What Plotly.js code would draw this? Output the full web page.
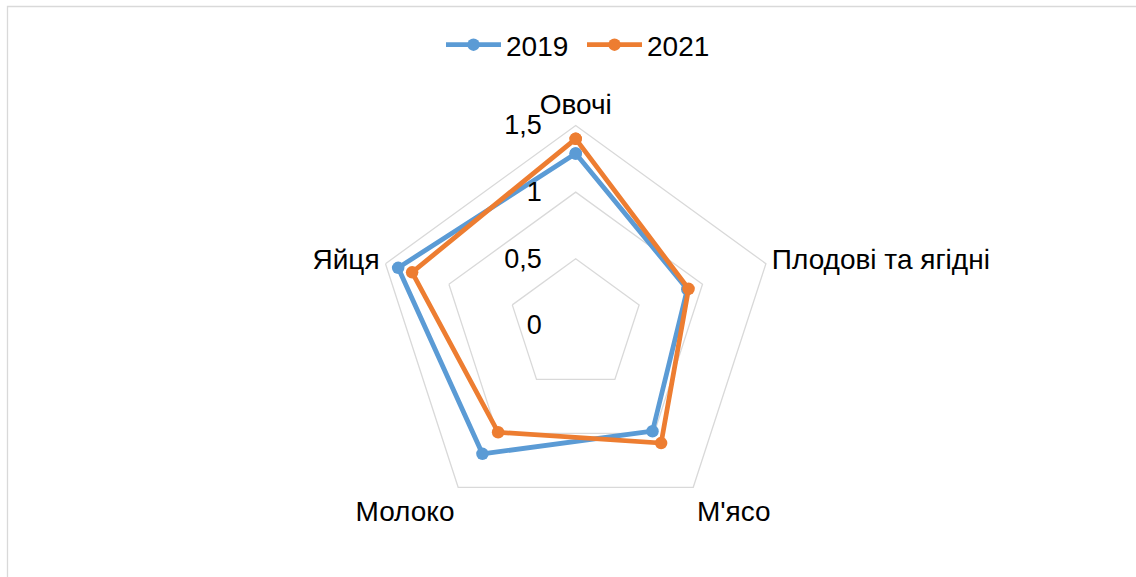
<!DOCTYPE html>
<html>
<head>
<meta charset="utf-8">
<script src="https://cdn.plot.ly/plotly-3.0.1.min.js"></script>
<style>
html,body{margin:0;padding:0;background:#fff;}
#chart{width:1136px;height:577px;}
</style>
</head>
<body>
<div id="chart"></div>
<script>
var categories = ["Овочі", "Плодові та ягідні", "М'ясо", "Молоко", "Яйця"];
var values2019 = [1.29, 0.88, 0.98, 1.19, 1.40];
var values2021 = [1.40, 0.89, 1.09, 0.99, 1.29];
var seriesNames = ["2019", "2021"];
var tickValues = [0, 0.5, 1, 1.5];
var tickLabels = ["0", "0,5", "1", "1,5"];

function closed(arr){ return arr.concat([arr[0]]); }

var colors = ["#5B9BD5", "#ED7D31"];
var traces = [values2019, values2021].map(function(v, i){
  return {
    type: 'scatterpolar',
    r: closed(v),
    theta: closed(categories),
    mode: 'lines+markers',
    name: seriesNames[i],
    line: {color: colors[i], width: 4.8},
    marker: {color: colors[i], size: 12.5},
    cliponaxis: false
  };
});

var W = 1136, H = 577;
var cx = 575.7, cy = 325.5, R = 200;

var layout = {
  width: W, height: H,
  margin: {l: 0, r: 0, t: 0, b: 0},
  paper_bgcolor: '#fff',
  plot_bgcolor: '#fff',
  font: {family: 'Liberation Sans, Arial, sans-serif', size: 28, color: '#000'},
  showlegend: true,
  legend: {
    orientation: 'h',
    x: 0.5 + 14/W, xanchor: 'center',
    y: 1 - 45/H, yanchor: 'middle',
    font: {size: 28, color: '#000'},
    itemwidth: 55,
    entrywidth: 71,
    bgcolor: 'rgba(0,0,0,0)'
  },
  polar: {
    domain: {x: [(cx - R)/W, (cx + R)/W], y: [(H - cy - R)/H, (H - cy + R)/H]},
    gridshape: 'linear',
    bgcolor: '#fff',
    radialaxis: {
      range: [0, 1.5],
      tickvals: tickValues,
      ticktext: tickLabels,
      angle: 90,
      tickangle: 90,
      side: 'counterclockwise',
      showline: false,
      ticks: 'outside',
      ticklen: 24,
      tickcolor: 'rgba(0,0,0,0)',
      gridcolor: '#d9d9d9',
      gridwidth: 1.3,
      tickfont: {size: 27, color: '#000'}
    },
    angularaxis: {
      rotation: 90,
      direction: 'clockwise',
      showgrid: false,
      showline: true,
      linecolor: '#d9d9d9',
      linewidth: 1.3,
      ticks: '',
      tickfont: {size: 28, color: '#000'}
    }
  },
  shapes: [{
    type: 'rect', xref: 'paper', yref: 'paper',
    x0: 7.5/W, x1: 1.2, y0: -0.2, y1: (H - 6.5)/H,
    line: {color: '#d9d9d9', width: 1.3},
    fillcolor: 'rgba(0,0,0,0)'
  }]
};

Plotly.newPlot('chart', traces, layout, {displayModeBar: false, staticPlot: true});
</script>
</body>
</html>
